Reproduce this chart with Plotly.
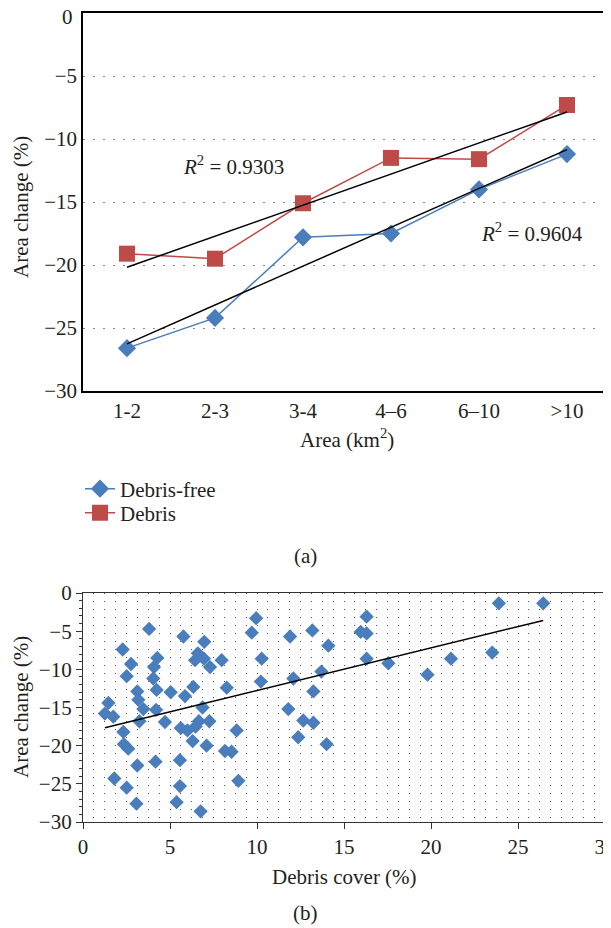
import numpy as np
import plotly.graph_objects as go

# ---------------- data ----------------
area_classes = ["1-2", "2-3", "3-4", "4–6", "6–10", ">10"]
debris_free = [-26.6, -24.2, -17.8, -17.5, -14.0, -11.2]
debris = [-19.1, -19.5, -15.1, -11.5, -11.6, -7.3]
r2_debris = "0.9303"
r2_debris_free = "0.9604"

y_tick_vals = [0, -5, -10, -15, -20, -25, -30]
y_tick_text = ["0", "−5", "−10", "−15", "−20", "−25", "−30"]
x2_tick_vals = [0, 5, 10, 15, 20, 25, 30]
x2_tick_text = ["0", "5", "10", "15", "20", "25", "30"]

debris_cover = [3.80, 2.28, 2.76, 2.51, 4.27, 4.08, 4.04, 4.23, 3.12, 3.18,
                5.04, 1.46, 5.77, 6.97, 6.60, 6.44, 6.95, 7.30, 7.97, 5.86,
                6.34, 8.26, 1.26, 1.74, 3.47, 4.20, 3.24, 4.71, 6.87, 5.62,
                6.00, 6.66, 6.47, 7.26, 6.30, 7.10, 8.83, 2.32, 2.35, 2.60,
                8.16, 8.54, 3.12, 4.17, 1.80, 2.51, 3.07, 5.57, 5.57, 5.38,
                6.76, 8.93, 9.95, 9.70, 10.27, 10.22, 11.90, 13.18, 14.10, 16.30,
                15.96, 16.30, 16.30, 17.55, 13.70, 12.09, 13.24, 11.80, 12.66, 13.24,
                12.37, 14.00, 19.80, 21.15, 23.52, 23.90, 26.45]
area_change = [-4.7, -7.4, -9.3, -10.9, -8.5, -9.7, -11.2, -12.7, -12.9, -14.0,
               -13.0, -14.4, -5.7, -6.4, -7.9, -8.8, -8.6, -9.7, -8.8, -13.5,
               -12.3, -12.4, -15.8, -16.2, -15.2, -15.3, -16.8, -16.9, -15.0, -17.7,
               -18.0, -16.8, -17.5, -16.8, -19.4, -20.0, -18.0, -18.2, -19.8, -20.4,
               -20.7, -20.8, -22.6, -22.1, -24.3, -25.5, -27.6, -21.9, -25.3, -27.4,
               -28.6, -24.6, -3.3, -5.2, -8.6, -11.6, -5.7, -4.9, -6.9, -3.1,
               -5.1, -5.3, -8.6, -9.2, -10.3, -11.2, -12.9, -15.2, -16.7, -17.0,
               -18.9, -19.8, -10.7, -8.6, -7.8, -1.35, -1.35]

# ---------------- styling ----------------
W, H = 611, 928
OFF = 8  # default page (body) margin of the html document
FONT = "Liberation Serif"
FS = 21
TXT = "#231f20"
BLUE = "#4a7dbb"
RED = "#be4b48"


def fx(px):
    return (px - OFF) / W


def fy(py):
    return 1 - (py - OFF) / H


fig = go.Figure()

# ---- panel (a) ----
idx = np.arange(len(area_classes))
fit_free = np.polyfit(idx, debris_free, 1)
fit_deb = np.polyfit(idx, debris, 1)
ends = np.array([idx[0], idx[-1]])

fig.add_trace(go.Scatter(
    x=area_classes, y=debris_free, name="Debris-free", mode="lines+markers",
    line=dict(color=BLUE, width=1.5),
    marker=dict(symbol="diamond", size=14, color=BLUE),
    xaxis="x", yaxis="y", legend="legend"))
fig.add_trace(go.Scatter(
    x=area_classes, y=debris, name="Debris", mode="lines+markers",
    line=dict(color=RED, width=1.5),
    marker=dict(symbol="square", size=16, color=RED),
    xaxis="x", yaxis="y", legend="legend2"))
fig.add_trace(go.Scatter(
    x=[area_classes[0], area_classes[-1]], y=np.polyval(fit_deb, ends),
    mode="lines", line=dict(color="black", width=1.5), showlegend=False,
    hoverinfo="skip", xaxis="x", yaxis="y"))
fig.add_trace(go.Scatter(
    x=[area_classes[0], area_classes[-1]], y=np.polyval(fit_free, ends),
    mode="lines", line=dict(color="black", width=1.5), showlegend=False,
    hoverinfo="skip", xaxis="x", yaxis="y"))

# ---- panel (b) ----
fit_b = np.polyfit(debris_cover, area_change, 1)
xb = np.array([min(debris_cover), max(debris_cover)])
fig.add_trace(go.Scatter(
    x=debris_cover, y=area_change, mode="markers", showlegend=False,
    marker=dict(symbol="diamond", size=11, color=BLUE),
    xaxis="x2", yaxis="y2"))
fig.add_trace(go.Scatter(
    x=xb, y=np.polyval(fit_b, xb), mode="lines", showlegend=False,
    line=dict(color="black", width=1.5), hoverinfo="skip",
    xaxis="x2", yaxis="y2"))

tickfont = dict(family=FONT, size=FS, color=TXT)
legfont = dict(family=FONT, size=FS, color=TXT)

fig.update_layout(
    width=W, height=H,
    margin=dict(l=0, r=0, t=0, b=0),
    paper_bgcolor="white", plot_bgcolor="white",
    font=dict(family=FONT, size=FS, color=TXT),
    xaxis=dict(
        domain=[fx(83), fx(611)], anchor="y", type="category", automargin=False,
        range=[-0.5, len(area_classes) - 0.5],
        showline=True, linecolor="black", linewidth=1.5, mirror=True,
        showgrid=False, ticks="", tickfont=tickfont, zeroline=False),
    yaxis=dict(
        domain=[fy(391), fy(13)], anchor="x", range=[-30, 0], automargin=False,
        # the top "0" label sits at the page edge; it is drawn as an annotation
        tickvals=y_tick_vals[1:], ticktext=y_tick_text[1:],
        showline=True, linecolor="black", linewidth=1.5, mirror=False,
        showgrid=True, gridcolor="#8a8a8a", gridwidth=1.2, griddash="2px,8px",
        ticks="", tickfont=tickfont, zeroline=False),
    xaxis2=dict(
        domain=[fx(83), fx(605)], anchor="y2", range=[0, 30], automargin=False,
        tickvals=x2_tick_vals, ticktext=x2_tick_text, ticklabeloverflow="allow",
        showline=True, linecolor="#333", linewidth=1.3, mirror=True,
        ticks="outside", ticklen=6, tickcolor="#333",
        showgrid=True, gridcolor="#555", gridwidth=1, griddash="1px,7px",
        minor=dict(dtick=0.625, showgrid=True, gridcolor="#555", gridwidth=1,
                   griddash="1px,7px", ticks=""),
        tickfont=tickfont, zeroline=False),
    yaxis2=dict(
        domain=[fy(822), fy(593)], anchor="x2", range=[-30, 0], automargin=False,
        tickvals=y_tick_vals, ticktext=y_tick_text, ticklabeloverflow="allow",
        showline=True, linecolor="#333", linewidth=1.3, mirror=True,
        ticks="outside", ticklen=6, tickcolor="#333",
        minor=dict(dtick=1, ticks="outside", ticklen=3, tickcolor="#333",
                   showgrid=False),
        showgrid=False, tickfont=tickfont, zeroline=False),
    legend=dict(
        x=fx(80), y=fy(489), xanchor="left", yanchor="middle",
        bgcolor="rgba(0,0,0,0)", font=legfont, itemwidth=30),
    legend2=dict(
        x=fx(80), y=fy(513), xanchor="left", yanchor="middle",
        bgcolor="rgba(0,0,0,0)", font=legfont, itemwidth=30),
    showlegend=True,
)

ann = [
    dict(text="<i>R</i><sup>2</sup> = " + r2_debris, x=fx(233), y=fy(165)),
    dict(text="<i>R</i><sup>2</sup> = " + r2_debris_free, x=fx(532), y=fy(232)),
    dict(text="Area change (%)", x=fx(21), y=fy(207), textangle=-90),
    dict(text="Area (km<sup>2</sup>)", x=fx(347), y=fy(438)),
    dict(text="(a)", x=fx(305), y=fy(556)),
    dict(text="Area change (%)", x=fx(21), y=fy(707), textangle=-90),
    dict(text="Debris cover (%)", x=fx(344), y=fy(877)),
    dict(text="(b)", x=fx(305), y=fy(913)),
    dict(text=y_tick_text[0], x=fx(75), y=fy(17), xanchor="right"),
]
for a in ann:
    a.setdefault("xanchor", "center")
    a.update(xref="paper", yref="paper", yanchor="middle",
             showarrow=False, font=dict(family=FONT, size=FS, color=TXT))
fig.update_layout(annotations=ann)

fig.write_html("out.html")
